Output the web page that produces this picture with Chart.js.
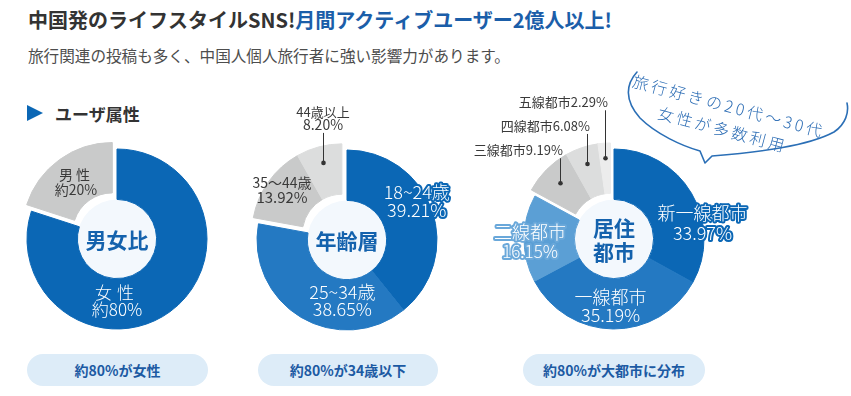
<!DOCTYPE html>
<html lang="ja">
<head>
    <meta charset="UTF-8">
    <script src="https://cdn.jsdelivr.net/npm/chart.js"></script>
    <title>ユーザ属性</title>
    <style>
        body{
            margin:0;
            width:851px;
            height:396px;
            background:#fff;
            position:relative;
            overflow:hidden;
            font-family:"Noto Sans CJK JP","Noto Sans",sans-serif;
        }
        .abs{ position:absolute; }
        #title{
            left:28px; top:6px;
            font-size:20px; font-weight:700; line-height:28px;
            color:#333; white-space:nowrap;
        }
        #title .blue{ color:#1b5ea9; }
        #sub{
            left:28px; top:43px;
            font-size:15.6px; line-height:24px; color:#4d4d4d; white-space:nowrap;
        }
        #tri{
            left:27px; top:105px; width:0; height:0;
            border-left:16px solid #0b67b5;
            border-top:8.5px solid transparent;
            border-bottom:8.5px solid transparent;
        }
        #sec{
            left:55px; top:101px;
            font-size:17px; font-weight:700; line-height:26px; color:#333;
        }
        canvas{ position:absolute; }
        .pill{
            position:absolute; top:354px; height:32px; border-radius:16px;
            background:#ddecf8; color:#1c5aa3;
            font-size:14px; font-weight:700; line-height:32px; text-align:center;
        }
        #bubble{ left:0; top:0; }
        #bubbleText{
            left:626px; top:93px; width:200px;
            transform:rotate(15deg);
            text-align:center; color:#2b6cb4;
            font-size:16px; font-weight:300; line-height:24px; letter-spacing:3px;
            white-space:nowrap;
        }
    </style>
</head>
<body>
    <div id="title" class="abs">中国発のライフスタイルSNS!<span class="blue">月間アクティブユーザー2億人以上!</span></div>
    <div id="sub" class="abs">旅行関連の投稿も多く、中国人個人旅行者に強い影響力があります。</div>
    <div id="tri" class="abs"></div>
    <div id="sec" class="abs">ユーザ属性</div>

    <canvas id="genderChart" width="300" height="300" style="left:-33px;top:89px"></canvas>
    <canvas id="ageChart" width="300" height="300" style="left:197px;top:90px"></canvas>
    <canvas id="cityChart" width="300" height="300" style="left:464px;top:89px"></canvas>

    <svg id="bubble" class="abs" width="851" height="396">
        <path d="M637,72 C626,84 624,100 640,118 C656,134 682,146 700,151 L705,163 L712,156 C760,152 808,146 834,132 C846,124 849,112 847,103"
              fill="none" stroke="#2b6fb6" stroke-width="1.6" stroke-linecap="round" stroke-linejoin="round"/>
    </svg>
    <div id="bubbleText" class="abs">旅行好きの20代～30代<br>女性が多数利用</div>

    <div class="pill" style="left:27px;width:181px">約80%が女性</div>
    <div class="pill" style="left:258px;width:180px">約80%が34歳以下</div>
    <div class="pill" style="left:523px;width:182px">約80%が大都市に分布</div>

    <script>
        // 男女比
        let genderLabels = ["女性", "男性"];
        let genderValues = [80, 20];
        let genderColors = ["#0b67b5", "#c9caca"];

        // 年齢層
        let ageLabels = ["18~24歳", "25~34歳", "35～44歳", "44歳以上"];
        let ageValues = [39.21, 38.65, 13.92, 8.20];
        let ageColors = ["#0b67b5", "#2479c2", "#c9caca", "#dcdddd"];

        // 居住都市
        let cityLabels = ["新一線都市", "一線都市", "二線都市", "三線都市", "四線都市", "五線都市"];
        let cityValues = [33.97, 35.19, 16.15, 9.19, 6.08, 2.29];
        let cityColors = ["#0b67b5", "#2479c2", "#5b9fd5", "#c9caca", "#dcdddd", "#ececec"];

        const FONT = '"Noto Sans CJK JP", "Noto Sans", sans-serif';
        const pct = v => v.toFixed(2) + "%";

        // 穴の塗り・グループのずらし・ラベル
        const donutDecor = {
            id: "donutDecor",
            beforeDatasetsDraw(chart, args, opts){
                const arc = chart.getDatasetMeta(0).data[0];
                const ctx = chart.ctx;
                ctx.save();
                ctx.fillStyle = "#f3f8fd";
                ctx.beginPath();
                ctx.arc(arc.x, arc.y, arc.innerRadius, 0, Math.PI * 2);
                ctx.fill();
                ctx.restore();
            },
            beforeDatasetDraw(chart, args, opts){
                const els = args.meta.data;
                const g = opts.group;
                const mid = (els[g[0]].startAngle + els[g[g.length - 1]].endAngle) / 2;
                const dx = Math.cos(mid) * opts.distance, dy = Math.sin(mid) * opts.distance;
                const ctx = chart.ctx;
                els.forEach((el, i) => {
                    if(g.includes(i)){
                        ctx.save();
                        ctx.translate(dx, dy);
                        el.draw(ctx);
                        ctx.restore();
                    }else{
                        el.draw(ctx);
                    }
                });
                return false;
            },
            afterDatasetsDraw(chart, args, opts){
                const ctx = chart.ctx;
                const els = chart.getDatasetMeta(0).data;
                const g = opts.group;
                const mid = (els[g[0]].startAngle + els[g[g.length - 1]].endAngle) / 2;
                const gx = Math.cos(mid) * opts.distance, gy = Math.sin(mid) * opts.distance;
                const c = els[0];

                // 中央の文字
                ctx.save();
                ctx.fillStyle = "#1462ad";
                ctx.font = "700 21px " + FONT;
                ctx.textAlign = "center";
                ctx.textBaseline = "middle";
                const n = opts.center.length;
                opts.center.forEach((s, k) => {
                    ctx.fillText(s, c.x, c.y + 1 + (k - (n - 1) / 2) * 24);
                });
                ctx.restore();

                opts.labels.forEach((lb, i) => {
                    const el = els[i];
                    const a = el.startAngle + lb.t * (el.endAngle - el.startAngle);
                    const r = el.innerRadius + lb.f * (el.outerRadius - el.innerRadius);
                    let x = el.x + Math.cos(a) * r;
                    let y = el.y + Math.sin(a) * r;
                    if(g.includes(i)){ x += gx; y += gy; }
                    ctx.save();
                    ctx.textBaseline = "middle";
                    if(lb.leader){
                        // 引き出し線
                        const top = y - lb.leader;
                        ctx.strokeStyle = "#333";
                        ctx.lineWidth = 1;
                        ctx.beginPath();
                        ctx.moveTo(Math.round(x) + 0.5, y);
                        ctx.lineTo(Math.round(x) + 0.5, top);
                        ctx.stroke();
                        ctx.fillStyle = "#333";
                        ctx.beginPath();
                        ctx.arc(Math.round(x) + 0.5, y, 2.3, 0, Math.PI * 2);
                        ctx.fill();
                        ctx.fillStyle = "#3a3a3a";
                        ctx.textAlign = lb.align || "center";
                        const tx = lb.align == "right" ? Math.round(x) + 3 : Math.round(x);
                        lb.lines.forEach((s, k) => {
                            ctx.font = "400 " + lb.sizes[k] + "px " + FONT;
                            ctx.fillText(s, tx, top - 8 - (lb.lines.length - 1 - k) * lb.gap);
                        });
                    }else{
                        ctx.textAlign = "center";
                        ctx.fillStyle = lb.color;
                        const n = lb.lines.length;
                        const weight = lb.color == WHITE ? "300 " : "400 ";
                        lb.lines.forEach((s, k) => {
                            ctx.font = weight + lb.sizes[k] + "px " + FONT;
                            if("letterSpacing" in ctx) ctx.letterSpacing = (lb.spacing && lb.spacing[k]) ? lb.spacing[k] : "0px";
                            const ty = y + (k - (n - 1) / 2) * lb.gap;
                            if(lb.halo){
                                ctx.strokeStyle = lb.halo;
                                ctx.lineWidth = 4;
                                ctx.lineJoin = "round";
                                ctx.strokeText(s, x, ty);
                            }
                            ctx.fillText(s, x, ty);
                        });
                    }
                    ctx.restore();
                });
            }
        };

        function makeDonut(id, labels, values, colors, decor){
            return new Chart(document.getElementById(id), {
                type: "doughnut",
                data: {
                    labels: labels,
                    datasets: [{
                        data: values,
                        backgroundColor: colors,
                        borderColor: colors,
                        borderWidth: 1,
                    }]
                },
                options: {
                    responsive: false,
                    animation: false,
                    events: [],
                    radius: 90,
                    cutout: "44%",
                    layout: { padding: 0 },
                    plugins: {
                        legend: { display: false },
                        tooltip: { enabled: false },
                        donutDecor: decor,
                    }
                },
                plugins: [donutDecor]
            });
        }

        const WHITE = "#ffffff", DARK = "#3a3a3a";

        makeDonut("genderChart", genderLabels, genderValues, genderColors, {
            group: [1], distance: 8,
            center: ["男女比"],
            labels: [
                { t: 0.625, f: 0.44, gap: 17, sizes: [17, 17], color: WHITE, spacing: ["5px", "0px"],
                  lines: [genderLabels[0], "約" + genderValues[0] + "%"] },
                { t: 0.5, f: 0.44, gap: 15, sizes: [14, 14], color: DARK, spacing: ["3px", "0px"],
                  lines: [genderLabels[1], "約" + genderValues[1] + "%"] },
            ]
        });

        makeDonut("ageChart", ageLabels, ageValues, ageColors, {
            group: [2, 3], distance: 8,
            center: ["年齢層"],
            labels: [
                { t: 0.43, f: 0.8, gap: 18, sizes: [18, 18], color: WHITE, halo: ageColors[0],
                  lines: [ageLabels[0], pct(ageValues[0])] },
                { t: 0.31, f: 0.42, gap: 17, sizes: [18, 18], color: WHITE,
                  lines: [ageLabels[1], pct(ageValues[1])] },
                { t: 0.52, f: 0.69, gap: 15, sizes: [14, 15], color: DARK,
                  lines: [ageLabels[2], pct(ageValues[2])] },
                { t: 0.5, f: 0.67, gap: 13, sizes: [13, 14], leader: 30,
                  lines: [ageLabels[3], pct(ageValues[3])] },
            ]
        });

        makeDonut("cityChart", cityLabels, cityValues, cityColors, {
            group: [3, 4, 5], distance: 7,
            center: ["居住", "都市"],
            labels: [
                { t: 0.67, f: 1.0, gap: 20, sizes: [18, 18], color: WHITE, halo: cityColors[0],
                  lines: [cityLabels[0], pct(cityValues[0])] },
                { t: 0.52, f: 0.54, gap: 18, sizes: [18, 18], color: WHITE,
                  lines: [cityLabels[1], pct(cityValues[1])] },
                { t: 0.46, f: 0.88, gap: 19, sizes: [18, 17], color: WHITE, halo: "#6aa8da",
                  lines: [cityLabels[2], pct(cityValues[2])] },
                { t: 0.5, f: 0.62, gap: 0, sizes: [13], leader: 25, align: "right",
                  lines: [cityLabels[3] + pct(cityValues[3])] },
                { t: 0.5, f: 0.66, gap: 0, sizes: [13], leader: 30, align: "right",
                  lines: [cityLabels[4] + pct(cityValues[4])] },
                { t: 0.5, f: 0.7, gap: 0, sizes: [13], leader: 48, align: "right",
                  lines: [cityLabels[5] + pct(cityValues[5])] },
            ]
        });
    </script>
</body>
</html>
